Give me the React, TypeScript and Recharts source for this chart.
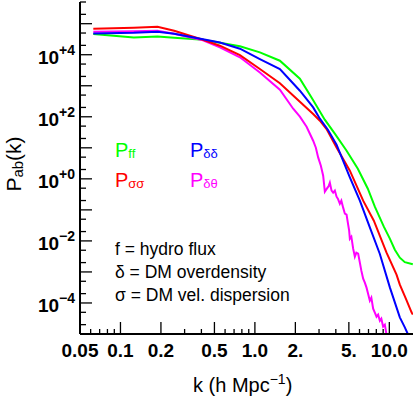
import React from "react";
import { LineChart, Line, XAxis, YAxis } from "recharts";

// k in h/Mpc, P in arbitrary units
const greenK = [0.0628, 0.1257, 0.1885, 0.251, 0.411, 0.549, 0.774, 1.089, 1.534, 2.161, 2.7, 3.31, 3.93, 4.81, 5.83, 6.92, 7.8, 9.1, 10.09, 10.99, 11.97, 13.04, 14.95];
const greenP = [4.64e4, 3.61e4, 3.89e4, 3.53e4, 3.04e4, 2.44e4, 1.88e4, 1.19e4, 6.41e3, 1.69e3, 355, 80.5, 28.5, 8.07, 2.12, 0.482, 0.127, 0.0288, 0.0118, 5.22e-3, 2.88e-3, 2.07e-3, 1.78e-3];

const blueK = [0.0628, 0.1257, 0.1885, 0.251, 0.411, 0.549, 0.774, 1.089, 1.534, 2.161, 2.713, 3.043, 3.49, 4.05, 5.086, 6.036, 7.161, 8.501, 10.09, 11.97, 13.04, 13.8];
const blueP = [4.85e4, 5.12e4, 5.51e4, 4.75e4, 3.16e4, 2.49e4, 1.56e4, 7.26e3, 3.46e3, 692, 200, 86.7, 38.4, 12.6, 1.11, 0.198, 0.0273, 3.79e-3, 3.18e-4, 3.44e-5, 1.64e-5, 9.5e-6];

const redK = [0.0628, 0.1257, 0.1885, 0.251, 0.329, 0.411, 0.549, 0.774, 1.089, 1.534, 2.161, 2.713, 3.043, 3.413, 4.05, 5.086, 6.388, 7.67, 9.532, 11.31, 11.97, 13.27, 14.63, 14.95];
const redP = [6.89e4, 7.41e4, 7.98e4, 5.93e4, 4.09e4, 3.04e4, 1.95e4, 9.64e3, 3.46e3, 1.21e3, 306, 123, 74.8, 40.4, 10.3, 1.83, 0.198, 0.0449, 4.18e-3, 8.17e-4, 3.89e-4, 1.38e-4, 4.99e-5, 4.21e-5];

const magentaK = [0.0628, 0.1257, 0.1885, 0.251, 0.411, 0.549, 0.774, 1.089, 1.534, 1.927, 2.161, 2.424, 2.713, 2.841, 2.955, 3.095, 3.22, 3.314, 3.43, 3.549, 3.611, 3.718, 3.821, 3.934, 4.05, 4.141, 4.285, 4.397, 4.534, 4.67, 4.806, 4.94, 5.025, 5.086, 5.218, 5.382, 5.54, 5.684, 5.862, 6.036, 6.192, 6.388, 6.574, 6.767, 6.92, 7.161, 7.348, 7.579, 7.802, 8.031, 8.254, 8.501, 8.72, 8.993, 9.258, 9.532];
const magentaP = [5.51e4, 5.71e4, 5.93e4, 4.75e4, 2.93e4, 1.72e4, 8.3e3, 2.69e3, 745, 182, 101, 47.9, 16.9, 10.1, 4.91, 2.65, 1.26, 0.386, 0.482, 0.602, 0.752, 0.416, 0.358, 0.416, 0.266, 0.23, 0.158, 0.198, 0.118, 0.0755, 0.07, 0.0333, 0.0214, 0.0118, 0.0137, 5.62e-3, 3.1e-3, 4.18e-3, 3.88e-3, 1.99e-3, 1.1e-3, 6.08e-4, 4.52e-4, 3.12e-4, 2.15e-4, 1.19e-4, 1.48e-4, 6.56e-5, 4.86e-5, 3.61e-5, 4.21e-5, 2.69e-5, 3.12e-5, 1.73e-5, 2.0e-5, 9.5e-6];

const xTicks = [0.05, 0.06, 0.07, 0.08, 0.09, 0.1, 0.2, 0.3, 0.4, 0.5, 0.6, 0.7, 0.8, 0.9, 1, 2, 3, 4, 5, 6, 7, 8, 9, 10];
const xMajor = [0.1, 0.2, 0.5, 1, 2, 5, 10];
const xLabels: Record<string, string> = { "0.05": "0.05", "0.1": "0.1", "0.2": "0.2", "0.5": "0.5", "1": "1.0", "2": "2.", "5": "5.", "10": "10.0" };

const yTicks = [1e-5, 2e-5, 5e-5, 1e-4, 2e-4, 5e-4, 1e-3, 2e-3, 5e-3, 1e-2, 2e-2, 5e-2, 0.1, 0.2, 0.5, 1, 2, 5, 10, 20, 50, 100, 200, 500, 1e3, 2e3, 5e3, 1e4, 2e4, 5e4, 1e5, 2e5, 5e5];
const yMajor = [1e-5, 1e-4, 1e-3, 1e-2, 0.1, 1, 10, 100, 1e3, 1e4, 1e5];
const yLabels: Record<string, string> = { "0.0001": "\u22124", "0.01": "\u22122", "1": "+0", "100": "+2", "10000": "+4" };

const FONT = '"Liberation Sans", Arial, Helvetica, sans-serif';

const toPoints = (ks: number[], ps: number[]) => ks.map((k, i) => ({ k, p: ps[i] }));

const XTick = ({ x, y, payload, side }: any) => {
  const v = payload.value;
  const len = xMajor.includes(v) ? 12 : v === 0.05 ? 8 : 5;
  const dir = side === "top" ? 1 : -1;
  const label = side === "bottom" ? xLabels[String(v)] : undefined;
  return (
    <g>
      <line x1={x} x2={x} y1={y} y2={y + dir * len} stroke="#000" strokeWidth={1.3} />
      {label && (
        <text x={x} y={y + 23} textAnchor="middle" fontFamily={FONT} fontWeight="bold" fontSize={19} fill="#000">
          {label}
        </text>
      )}
    </g>
  );
};

const YTick = ({ x, y, payload, side }: any) => {
  const v = payload.value;
  const len = yMajor.includes(v) ? 12 : 6;
  const dir = side === "left" ? 1 : -1;
  const sup = side === "left" ? yLabels[String(v)] : undefined;
  return (
    <g>
      <line x1={x} x2={x + dir * len} y1={y} y2={y} stroke="#000" strokeWidth={1.3} />
      {sup && (
        <text x={x - 5} y={y + 9} textAnchor="end" fontFamily={FONT} fontWeight="bold" fill="#000">
          <tspan fontSize={19}>10</tspan>
          <tspan fontSize={14} dy={-9}>{sup}</tspan>
        </text>
      )}
    </g>
  );
};

const series = [
  { name: "ff", color: "#00ff00", k: greenK, p: greenP },
  { name: "dt", color: "#ff00ff", k: magentaK, p: magentaP },
  { name: "ss", color: "#ff0000", k: redK, p: redP },
  { name: "dd", color: "#0000ff", k: blueK, p: blueP },
];

export default function App() {
  return (
    <div style={{ position: "absolute", left: 0, top: 0, width: 415, height: 408, background: "#fff" }}>
      <LineChart width={415} height={408} margin={{ top: 2, right: 2, left: 0, bottom: 0 }}>
        <XAxis
          xAxisId="b"
          dataKey="k"
          type="number"
          scale="log"
          domain={[0.05, 15]}
          allowDataOverflow
          ticks={xTicks}
          interval={0}
          height={74}
          tickSize={0}
          tickMargin={0}
          tickLine={false}
          axisLine={{ stroke: "#000", strokeWidth: 2 }}
          tick={(p: any) => <XTick {...p} side="bottom" />}
        />
        <XAxis
          xAxisId="t"
          orientation="top"
          dataKey="k"
          type="number"
          scale="log"
          domain={[0.05, 15]}
          allowDataOverflow
          ticks={xTicks}
          interval={0}
          height={0}
          tickSize={0}
          tickMargin={0}
          tickLine={false}
          axisLine={{ stroke: "#000", strokeWidth: 2 }}
          tick={(p: any) => <XTick {...p} side="top" />}
        />
        <YAxis
          yAxisId="l"
          type="number"
          scale="log"
          domain={[1e-5, 5e5]}
          allowDataOverflow
          ticks={yTicks}
          interval={0}
          width={80}
          tickSize={0}
          tickMargin={0}
          tickLine={false}
          axisLine={{ stroke: "#000", strokeWidth: 2 }}
          tick={(p: any) => <YTick {...p} side="left" />}
        />
        <YAxis
          yAxisId="r"
          orientation="right"
          type="number"
          scale="log"
          domain={[1e-5, 5e5]}
          allowDataOverflow
          ticks={yTicks}
          interval={0}
          width={0}
          tickSize={0}
          tickMargin={0}
          tickLine={false}
          axisLine={{ stroke: "#000", strokeWidth: 2 }}
          tick={(p: any) => <YTick {...p} side="right" />}
        />
        {series.map((s) => (
          <Line
            key={s.name}
            xAxisId="b"
            yAxisId="l"
            data={toPoints(s.k, s.p)}
            dataKey="p"
            type="linear"
            stroke={s.color}
            strokeWidth={2}
            dot={false}
            isAnimationActive={false}
          />
        ))}
      </LineChart>
      <svg width={415} height={408} style={{ position: "absolute", left: 0, top: 0, pointerEvents: "none" }} fontFamily={FONT}>
        <text transform="translate(20.5,164) rotate(-90)" textAnchor="middle" fontSize={21} fill="#000">
          P<tspan fontSize={15} dy={2}>ab</tspan>
          <tspan dy={-2}>(k)</tspan>
        </text>
        <text x={193} y={391.5} fontSize={20} fill="#000">
          k (h Mpc<tspan fontSize={14} dy={-8}>{"\u22121"}</tspan>
          <tspan dy={8}>)</tspan>
        </text>
        <text x={115} y={156.5} fontSize={20} fill="#00ff00">
          P<tspan fontSize={13} dy={1}>ff</tspan>
        </text>
        <text x={190} y={156.5} fontSize={20} fill="#0000ff">
          P<tspan fontSize={13} dy={1}>{"\u03b4\u03b4"}</tspan>
        </text>
        <text x={115} y={186.5} fontSize={20} fill="#ff0000">
          P<tspan fontSize={13} dy={1}>{"\u03c3\u03c3"}</tspan>
        </text>
        <text x={190} y={186.5} fontSize={20} fill="#ff00ff">
          P<tspan fontSize={13} dy={1}>{"\u03b4\u03b8"}</tspan>
        </text>
        <text x={115} y={255} fontSize={17.5} fill="#000">f = hydro flux</text>
        <text x={115} y={278} fontSize={17.5} fill="#000">{"\u03b4 = DM overdensity"}</text>
        <text x={115} y={300.5} fontSize={17.5} fill="#000">{"\u03c3 = DM vel. dispersion"}</text>
      </svg>
    </div>
  );
}
